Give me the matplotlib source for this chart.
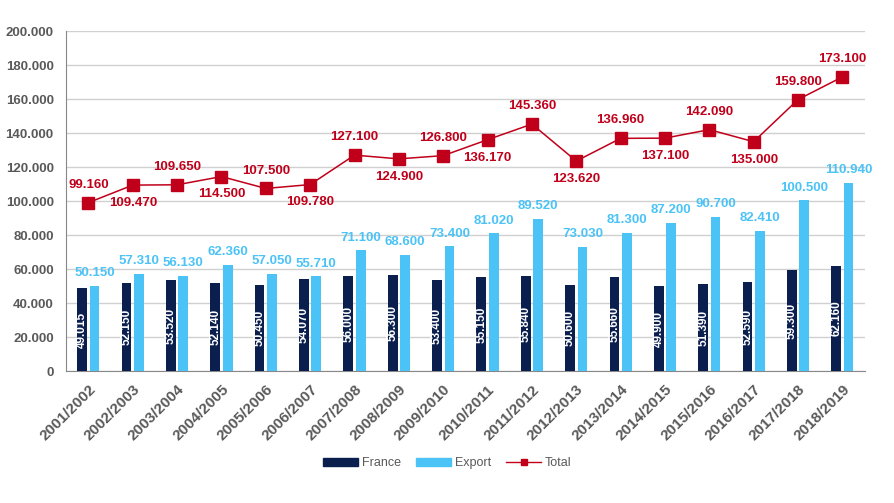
import numpy as np
import matplotlib.pyplot as plt
from matplotlib.lines import Line2D
from matplotlib.patches import Patch

seasons = ["2001/2002", "2002/2003", "2003/2004", "2004/2005", "2005/2006", "2006/2007",
           "2007/2008", "2008/2009", "2009/2010", "2010/2011", "2011/2012", "2012/2013",
           "2013/2014", "2014/2015", "2015/2016", "2016/2017", "2017/2018", "2018/2019"]
france = [49015, 52150, 53520, 52140, 50450, 54070, 56000, 56300, 53400, 55150,
          55840, 50600, 55660, 49900, 51390, 52590, 59300, 62160]
export = [50150, 57310, 56130, 62360, 57050, 55710, 71100, 68600, 73400, 81020,
          89520, 73030, 81300, 87200, 90700, 82410, 100500, 110940]
total = [99160, 109470, 109650, 114500, 107500, 109780, 127100, 124900, 126800, 136170,
         145360, 123620, 136960, 137100, 142090, 135000, 159800, 173100]
total_above = [True, False, True, False, True, False, True, False, True, False,
               True, False, True, False, True, False, True, True]

c_fr = "#0B1F4F"
c_ex = "#4BC3F7"
c_tot = "#C0001A"
c_txt = "#595959"

plt.rcParams['font.family'] = ['Liberation Sans', 'DejaVu Sans']


def fmt(v):
    return f"{v:,}".replace(",", ".")


fig = plt.figure(figsize=(8.95, 5.03), dpi=100)
ax = fig.add_axes([0.074, 0.262, 0.892, 0.676])

x = np.arange(len(seasons))
w = 0.22
ax.bar(x - w / 2 - 0.03, france, w, color=c_fr, zorder=3)
ax.bar(x + w / 2 + 0.03, export, w, color=c_ex, zorder=3)
ax.plot(x, total, color=c_tot, lw=1.1, marker="s", ms=8, zorder=4)

for i in range(len(x)):
    ax.text(x[i] - w / 2 - 0.03, france[i] / 2, fmt(france[i]), rotation=90,
            ha="center", va="center", color="white", fontsize=8.5, fontweight="bold", zorder=5)
    ax.text(x[i] + w / 2 + 0.03, export[i] + 4000, fmt(export[i]), ha="center", va="bottom",
            color=c_ex, fontsize=9.5, fontweight="bold", zorder=5)
    if total_above[i]:
        ax.text(x[i], total[i] + 7000, fmt(total[i]), ha="center", va="bottom",
                color=c_tot, fontsize=9.5, fontweight="bold", zorder=5)
    else:
        ax.text(x[i], total[i] - 7000, fmt(total[i]), ha="center", va="top",
                color=c_tot, fontsize=9.5, fontweight="bold", zorder=5)

ax.set_xlim(-0.5, len(x) - 0.5)
ax.set_ylim(0, 200000)
ax.set_yticks(np.arange(0, 200001, 20000))
ax.set_yticklabels([fmt(v) for v in range(0, 200001, 20000)])
ax.set_xticks(x)
ax.set_xticklabels(seasons, rotation=45, ha="right", rotation_mode="anchor")
ax.tick_params(axis="y", length=0, labelsize=9.5, labelcolor=c_txt, pad=9)
ax.tick_params(axis="x", length=0, labelsize=11, labelcolor=c_txt, pad=8)
for lab in ax.get_xticklabels() + ax.get_yticklabels():
    lab.set_fontweight("bold")

ax.grid(axis="y", color="#D0D0D0", lw=1, zorder=0)
for s in ["top", "right"]:
    ax.spines[s].set_visible(False)
ax.spines["left"].set_color("#888888")
ax.spines["bottom"].set_color("#888888")

handles = [Patch(color=c_fr), Patch(color=c_ex),
           Line2D([], [], color=c_tot, marker="s", ms=5, lw=1)]
fig.legend(handles, ["France", "Export", "Total"], loc="center", bbox_to_anchor=(0.5, 0.079),
           ncol=3, frameon=False, fontsize=9, labelcolor=c_txt, handlelength=2.8,
           handleheight=0.6, columnspacing=1.2, handletextpad=0.3)

fig.savefig("out.png", dpi=100)
